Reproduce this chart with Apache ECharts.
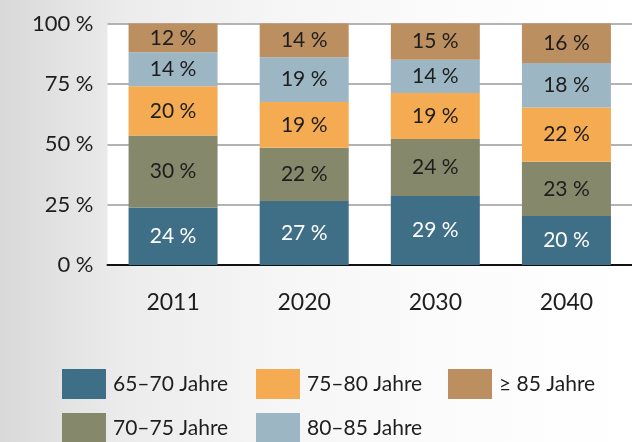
<!DOCTYPE html>
<html>
<head>
<meta charset="utf-8">
<script src="https://cdn.jsdelivr.net/npm/echarts@6/dist/echarts.min.js"></script>
<style>
  html, body { margin: 0; padding: 0; }
  body { width: 632px; height: 442px; overflow: hidden;
    background: linear-gradient(to right, #d9d9d9 0%, #ececec 20%, #f6f6f6 45%, #fcfcfc 75%, #ffffff 100%); }
  #chart { width: 632px; height: 442px; }
</style>
</head>
<body>
<div id="chart"></div>
<script>
const categories = ['2011', '2020', '2030', '2040'];
const seriesNames = ['65–70 Jahre', '70–75 Jahre', '75–80 Jahre', '80–85 Jahre', '≥ 85 Jahre'];
const s6570 = [23.8, 26.5, 28.6, 20.3];
const s7075 = [29.8, 22.0, 23.6, 22.5];
const s7580 = [20.4, 19.0, 19.0, 22.4];
const s8085 = [14.1, 18.5, 13.8, 18.4];
const s85   = [11.9, 14.0, 15.0, 16.4];
const yTicks = [0, 25, 50, 75, 100];

const colors = ['#3f6e87', '#85886b', '#f4ab52', '#9db6c4', '#bc8f61'];
const labelColors = ['#ffffff', '#1e1e1e', '#1e1e1e', '#1e1e1e', '#1e1e1e'];
const seriesData = [s6570, s7075, s7580, s8085, s85];
const FONT = 'Lato';

const chart = echarts.init(document.getElementById('chart'), null, { renderer: 'canvas' });

const series = seriesData.map((d, i) => ({
  name: seriesNames[i],
  type: 'bar',
  stack: 'total',
  barWidth: 89,
  data: d,
  itemStyle: { color: colors[i] },
  label: {
    show: true,
    position: 'inside',
    color: labelColors[i],
    fontFamily: FONT,
    fontSize: 21,
    formatter: p => Math.round(p.value) + ' %'
  }
}));

const legendPos = [
  { name: seriesNames[0], left: 62, top: 369 },
  { name: seriesNames[2], left: 256, top: 369 },
  { name: seriesNames[4], left: 448, top: 369 },
  { name: seriesNames[1], left: 62, top: 413 },
  { name: seriesNames[3], left: 256, top: 413 }
];

const legends = legendPos.map(l => ({
  data: [l.name],
  left: l.left,
  top: l.top,
  padding: 0,
  orient: 'horizontal',
  icon: 'rect',
  itemWidth: 44,
  itemHeight: 30,
  selectedMode: false,
  textStyle: { fontFamily: FONT, fontSize: 21, color: '#1e1e1e', padding: [3, 0, 0, 2] }
}));

chart.setOption({
  animation: false,
  textStyle: { fontFamily: FONT },
  grid: {
    left: 107.5, top: 23.5, width: 534, height: 241.5,
    show: true, backgroundColor: '#ffffff', borderWidth: 0
  },
  legend: legends,
  xAxis: {
    type: 'category',
    data: categories,
    axisTick: { show: false },
    axisLine: { show: true, lineStyle: { color: '#111', width: 2 } },
    axisLabel: { fontFamily: FONT, fontSize: 23, color: '#1e1e1e', margin: 26 }
  },
  yAxis: {
    type: 'value',
    min: yTicks[0],
    max: yTicks[yTicks.length - 1],
    interval: 25,
    axisLine: { show: false },
    axisTick: { show: false },
    splitLine: { show: true, lineStyle: { color: '#9a9a9a', width: 1.5 } },
    axisLabel: { fontFamily: FONT, fontSize: 22, color: '#1e1e1e', margin: 14, formatter: '{value} %' }
  },
  series: series
});
</script>
</body>
</html>
